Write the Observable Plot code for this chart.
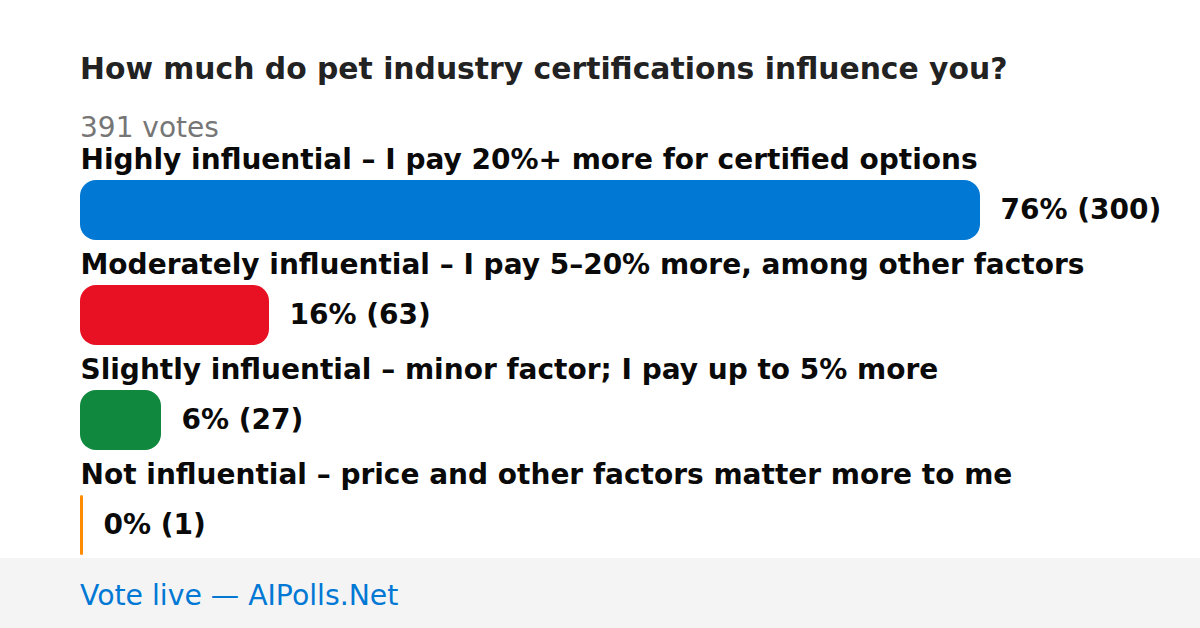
<!DOCTYPE html>
<html>
<head>
<meta charset="utf-8">
<script src="https://cdn.jsdelivr.net/npm/d3@7"></script>
<script src="https://cdn.jsdelivr.net/npm/@observablehq/plot@0.6"></script>
<style>
  html, body { margin: 0; padding: 0; background: #fff; }
  body { width: 1200px; height: 628px; position: relative; overflow: hidden; font-family: "DejaVu Sans", sans-serif; }
  #title { position: absolute; left: 80px; top: 54px; font-size: 29.8px; line-height: 30px; font-weight: bold; color: #222; white-space: nowrap; }
  #votes { position: absolute; left: 80px; top: 114px; font-size: 28px; line-height: 28px; color: #767676; white-space: nowrap; }
  #chart { position: absolute; left: 0; top: 140px; }
  #footer { position: absolute; left: 0; top: 558px; width: 1200px; height: 70px; background: #f4f4f4; }
  #footer span { position: absolute; left: 80px; top: 24px; font-size: 28.3px; line-height: 28px; color: #0078D4; white-space: nowrap; }
</style>
</head>
<body>
<div id="title"></div>
<div id="votes"></div>
<div id="chart"></div>
<div id="footer"><span id="footerText"></span></div>
<script>
const titleText = "How much do pet industry certifications influence you?";
const totalVotesText = "391 votes";
const footerText = "Vote live — AIPolls.Net";
const categories = [
  "Highly influential – I pay 20%+ more for certified options",
  "Moderately influential – I pay 5–20% more, among other factors",
  "Slightly influential – minor factor; I pay up to 5% more",
  "Not influential – price and other factors matter more to me"
];
const votes = [300, 63, 27, 1];
const percents = [76, 16, 6, 0];
const colors = ["#0078D4", "#E81123", "#10893E", "#FF8C00"];

document.getElementById("title").textContent = titleText;
document.getElementById("votes").textContent = totalVotesText;
document.getElementById("footerText").textContent = footerText;

const data = categories.map((c, i) => ({category: c, votes: votes[i], label: `${percents[i]}% (${votes[i]})`}));

const chart = Plot.plot({
  width: 1200,
  height: 418,
  marginLeft: 80,
  marginRight: 220,
  marginTop: 0,
  marginBottom: 0,
  style: {fontFamily: "DejaVu Sans", background: "transparent"},
  x: {domain: [0, 300], axis: null},
  y: {domain: categories, range: [40, 415], paddingInner: 45 / 105, paddingOuter: 0, axis: null},
  color: {domain: categories, range: colors},
  marks: [
    Plot.barX(data, {x: "votes", y: "category", fill: "category"}),
    Plot.text(data, {y: "category", text: "category", frameAnchor: "left", textAnchor: "start", lineAnchor: "bottom", dy: -42, fontSize: 28, fontWeight: "bold", fill: "#0a0a0a"}),
    Plot.text(data, {x: "votes", y: "category", text: "label", textAnchor: "start", lineAnchor: "middle", dx: 20, fontSize: 28, fontWeight: "bold", fill: "#0a0a0a"})
  ]
});
// rounded ends: radius = min(16, half the bar width)
d3.select(chart).selectAll("rect").each(function() {
  const w = +this.getAttribute("width");
  if (!isFinite(w)) return;
  const r = Math.min(16, w / 2);
  this.setAttribute("rx", r);
  this.setAttribute("ry", r);
});
document.getElementById("chart").appendChild(chart);
</script>
</body>
</html>
